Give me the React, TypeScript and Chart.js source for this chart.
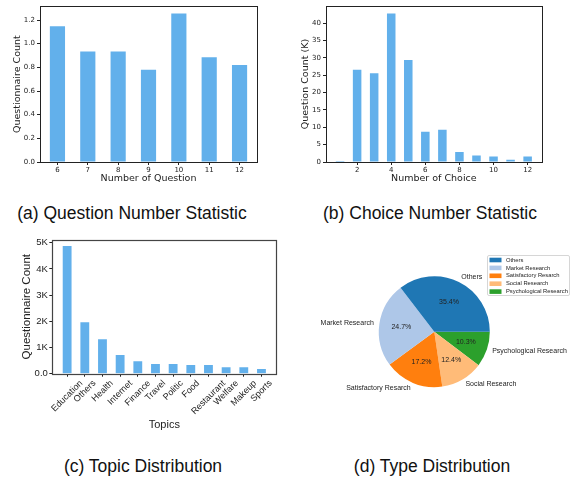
import React, { useEffect, useRef } from 'react';
import { Chart, registerables } from 'chart.js';

Chart.register(...registerables);

// ---------- data ----------
const questionNums = ['6', '7', '8', '9', '10', '11', '12'];
const questionCounts = [1.148, 0.933, 0.933, 0.78, 1.254, 0.886, 0.82];

const choiceNums = [1, 2, 3, 4, 5, 6, 7, 8, 9, 10, 11, 12];
const choiceCounts = [0.3, 26.6, 25.6, 42.8, 29.4, 8.7, 9.3, 2.9, 1.85, 1.57, 0.64, 1.57];

const topics = ['Education', 'Others', 'Health', 'Internet', 'Finance', 'Travel', 'Politic', 'Food', 'Restaurant', 'Welfare', 'Makeup', 'Sports'];
const topicCounts = [4873, 1967, 1320, 710, 480, 370, 370, 330, 330, 250, 250, 180];
const topicTicks = [0, 1000, 2000, 3000, 4000, 5000];

const typeLabels = ['Others', 'Market Research', 'Satisfactory Resarch', 'Social Research', 'Psychological Research'];
const typeShares = [35.4, 24.7, 17.2, 12.4, 10.3];
const typeColors = ['#1f77b4', '#aec7e8', '#ff7f0e', '#ffbb78', '#2ca02c'];

// ---------- styles ----------
const BAR_COLOR = '#62b0eb';
const INK = '#222222';
const DV = "'DejaVu Sans', sans-serif";
const LS = "'Liberation Sans', Arial, sans-serif";

const framePlugin = (color: string, width: number) => ({
  id: 'frame',
  afterDraw(chart: any) {
    const { ctx, chartArea: a } = chart;
    ctx.save();
    ctx.strokeStyle = color;
    ctx.lineWidth = width;
    ctx.strokeRect(Math.round(a.left) + 0.5, Math.round(a.top) + 0.5, Math.round(a.right - a.left), Math.round(a.bottom - a.top));
    ctx.restore();
  },
});

function axisBase(family: string, tickSize: number, titleSize: number, title: string, tickPad: number) {
  return {
    border: { display: false },
    grid: { offset: false, drawOnChartArea: false, tickLength: 3, color: INK, lineWidth: 1 },
    ticks: { autoSkip: false, includeBounds: false, padding: tickPad, color: INK, font: { family, size: tickSize } },
    title: { display: true, text: title, padding: 0, color: INK, font: { family, size: titleSize } },
  };
}

function useChart(ref: React.RefObject<HTMLCanvasElement>, make: () => any) {
  useEffect(() => {
    const chart = new Chart(ref.current as HTMLCanvasElement, make());
    return () => chart.destroy();
  }, []);
}

function PanelA() {
  const ref = useRef<HTMLCanvasElement>(null);
  useChart(ref, () => {
    const xb: any = axisBase(DV, 7, 9.5, 'Number of Question', 0.5);
    const yb: any = axisBase(DV, 7, 9.5, 'Questionnaire Count', 2);
    return {
      type: 'bar',
      data: { datasets: [{ data: questionCounts.map((v, i) => ({ x: i, y: v })), backgroundColor: BAR_COLOR, borderWidth: 0, barPercentage: 0.5, categoryPercentage: 1 }] },
      options: {
        animation: false, responsive: false, events: [],
        layout: { padding: { left: 12, right: 33, top: 2, bottom: 0 } },
        plugins: { legend: { display: false }, tooltip: { enabled: false } },
        scales: {
          x: { ...xb, type: 'linear', offset: false, min: -0.575, max: 6.575, afterFit: (s: any) => { s.height = 22; },
            ticks: { ...xb.ticks, stepSize: 1, maxRotation: 0, callback: (v: any) => questionNums[v] ?? '' } },
          y: { ...yb, type: 'linear', min: 0, max: Math.max(...questionCounts) * 1.05, afterFit: (s: any) => { s.width = 28; },
            ticks: { ...yb.ticks, stepSize: 0.2, callback: (v: any) => Number(v).toFixed(1) } },
        },
      },
      plugins: [framePlugin(INK, 1)],
    };
  });
  return <canvas ref={ref} width={290} height={184} style={{ position: 'absolute', left: 0, top: 0 }} />;
}

function PanelB() {
  const ref = useRef<HTMLCanvasElement>(null);
  useChart(ref, () => {
    const xb: any = axisBase(DV, 7, 9.5, 'Number of Choice', 0.5);
    const yb: any = axisBase(DV, 7, 9.5, 'Question Count (K)', 2);
    return {
      type: 'bar',
      data: { datasets: [{ data: choiceCounts.map((v, i) => ({ x: choiceNums[i], y: v })), backgroundColor: BAR_COLOR, borderWidth: 0, barPercentage: 0.5, categoryPercentage: 1 }] },
      options: {
        animation: false, responsive: false, events: [],
        layout: { padding: { left: 10, right: 30.3, top: 2, bottom: 0 } },
        plugins: { legend: { display: false }, tooltip: { enabled: false } },
        scales: {
          x: { ...xb, type: 'linear', offset: false, min: 0.175, max: 12.825, afterFit: (s: any) => { s.height = 22; },
            ticks: { ...xb.ticks, stepSize: 2, maxRotation: 0 } },
          y: { ...yb, type: 'linear', min: 0, max: Math.max(...choiceCounts) * 1.05, afterFit: (s: any) => { s.width = 26; },
            ticks: { ...yb.ticks, stepSize: 5 } },
        },
      },
      plugins: [framePlugin(INK, 1)],
    };
  });
  return <canvas ref={ref} width={282} height={184} style={{ position: 'absolute', left: 290, top: 0 }} />;
}

function PanelC() {
  const ref = useRef<HTMLCanvasElement>(null);
  useChart(ref, () => {
    const xb: any = axisBase(LS, 9, 11, 'Topics', 0);
    const yb: any = axisBase(LS, 9.5, 11.5, 'Questionnaire Count', 1.5);
    const rotTicks = {
      id: 'rotTicks',
      afterDraw(chart: any) {
        const scale = chart.scales.x;
        const ctx = chart.ctx;
        const size = 9;
        ctx.save();
        ctx.font = `${size}px ${LS}`;
        ctx.fillStyle = INK;
        ctx.textAlign = 'center';
        ctx.textBaseline = 'middle';
        topics.forEach((lab, i) => {
          const x = scale.getPixelForValue(i);
          const w = ctx.measureText(lab).width;
          const bh = (w + size * 1.15) * Math.SQRT1_2;
          const y = chart.chartArea.bottom + 4.5 + bh / 2;
          ctx.save();
          ctx.translate(x, y);
          ctx.rotate(-Math.PI / 4);
          ctx.fillText(lab, 0, 0);
          ctx.restore();
        });
        ctx.restore();
      },
    };
    return {
      type: 'bar',
      data: { datasets: [{ data: topicCounts.map((v, i) => ({ x: i, y: v })), backgroundColor: BAR_COLOR, borderWidth: 0, barPercentage: 0.5, categoryPercentage: 1 }] },
      options: {
        animation: false, responsive: false, events: [],
        layout: { padding: { left: 19.6, right: 13.7, top: 7.7, bottom: 0 } },
        plugins: { legend: { display: false }, tooltip: { enabled: false } },
        scales: {
          x: { ...xb, type: 'linear', offset: false, min: -0.84, max: 11.84, afterFit: (s: any) => { s.height = 58.3; },
            ticks: { ...xb.ticks, display: false, stepSize: 1, maxRotation: 0 } },
          y: { ...yb, type: 'linear', min: 0, max: Math.max(...topicCounts) * 1.05, afterFit: (s: any) => { s.width = 32.7; },
            afterBuildTicks: (s: any) => { s.ticks = topicTicks.map((v) => ({ value: v })); },
            ticks: { ...yb.ticks, callback: (v: any) => (v === 0 ? '0.0' : `${v / 1000}K`) } },
        },
      },
      plugins: [framePlugin('#444444', 1.2), rotTicks],
    };
  });
  return <canvas ref={ref} width={290} height={200} style={{ position: 'absolute', left: 0, top: 232 }} />;
}

function PanelD() {
  const ref = useRef<HTMLCanvasElement>(null);
  useChart(ref, () => {
    const pieText = {
      id: 'pieText',
      afterDatasetsDraw(chart: any) {
        const meta = chart.getDatasetMeta(0);
        const ctx = chart.ctx;
        const labels = chart.data.labels;
        const values = chart.data.datasets[0].data as number[];
        const total = values.reduce((a, b) => a + b, 0);
        ctx.save();
        ctx.fillStyle = INK;
        ctx.font = `7px ${LS}`;
        ctx.textBaseline = 'middle';
        meta.data.forEach((arc: any, i: number) => {
          const { x, y, startAngle, endAngle, outerRadius } = arc.getProps(['x', 'y', 'startAngle', 'endAngle', 'outerRadius'], true);
          const mid = (startAngle + endAngle) / 2;
          const c = Math.cos(mid);
          const s = Math.sin(mid);
          ctx.textAlign = c > 0 ? 'left' : 'right';
          ctx.fillText(labels[i], x + c * outerRadius * 1.1, y + s * outerRadius * 1.1);
          ctx.textAlign = 'center';
          ctx.fillText(`${((values[i] / total) * 100).toFixed(1)}%`, x + c * outerRadius * 0.6, y + s * outerRadius * 0.6);
        });
        ctx.restore();
      },
    };
    const legendBox = {
      id: 'legendBox',
      afterDraw(chart: any) {
        const ctx = chart.ctx;
        const bx = 187.5, by = 23.5, bw = 82, bh = 40;
        ctx.save();
        ctx.fillStyle = 'rgba(255,255,255,0.85)';
        ctx.strokeStyle = '#cccccc';
        ctx.lineWidth = 0.8;
        ctx.beginPath();
        (ctx as any).roundRect ? (ctx as any).roundRect(bx, by, bw, bh, 1.5) : ctx.rect(bx, by, bw, bh);
        ctx.fill();
        ctx.stroke();
        ctx.font = `5.8px ${LS}`;
        ctx.textAlign = 'left';
        ctx.textBaseline = 'middle';
        typeLabels.forEach((lab, i) => {
          const cy = by + 4.5 + i * 7.9;
          ctx.fillStyle = typeColors[i];
          ctx.fillRect(bx + 2, cy - 2.3, 12, 4.6);
          ctx.fillStyle = INK;
          ctx.fillText(lab, bx + 18.5, cy);
        });
        ctx.restore();
      },
    };
    return {
      type: 'pie',
      data: {
        labels: [...typeLabels].reverse(),
        datasets: [{ data: [...typeShares].reverse(), backgroundColor: [...typeColors].reverse(), borderWidth: 0 }],
      },
      options: {
        animation: false, responsive: false, events: [],
        rotation: 90,
        layout: { padding: { left: 78.8, top: 44.2, right: 82.2, bottom: 44.8 } },
        plugins: { legend: { display: false }, tooltip: { enabled: false } },
      },
      plugins: [pieText, legendBox],
    };
  });
  return <canvas ref={ref} width={272} height={200} style={{ position: 'absolute', left: 300, top: 232 }} />;
}

function Caption({ text, x, y }: { text: string; x: number; y: number }) {
  return (
    <div style={{ position: 'absolute', left: x, top: y, transform: 'translate(-50%, -50%)', whiteSpace: 'nowrap', fontFamily: LS, fontSize: 17.5, color: '#111', lineHeight: 1 }}>
      {text}
    </div>
  );
}

export default function App() {
  return (
    <div style={{ position: 'absolute', left: 0, top: 0, width: 572, height: 484, background: '#fff', overflow: 'hidden' }}>
      <PanelA />
      <PanelB />
      <PanelC />
      <PanelD />
      <Caption text="(a) Question Number Statistic" x={132} y={214} />
      <Caption text="(b) Choice Number Statistic" x={430} y={214} />
      <Caption text="(c) Topic Distribution" x={143} y={467} />
      <Caption text="(d) Type Distribution" x={432} y={467} />
    </div>
  );
}
